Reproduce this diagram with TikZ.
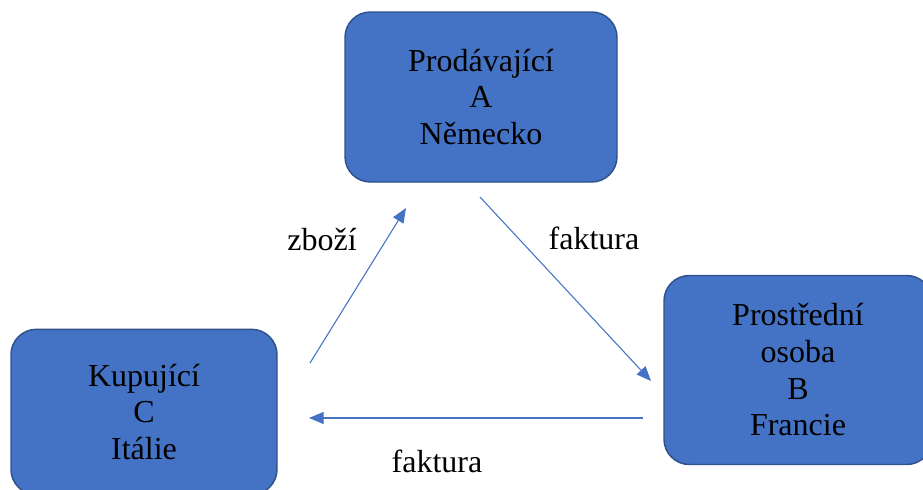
\documentclass[tikz,border=0pt]{standalone}
\usepackage{fontspec}
\setmainfont{Liberation Serif}
\usetikzlibrary{arrows.meta}

\definecolor{boxblue}{HTML}{4472C4}
\definecolor{boxedge}{HTML}{2F528F}

\begin{document}
\begin{tikzpicture}[
  x=0.75pt, y=-0.75pt,
  party/.style={rectangle, rounded corners=19pt, fill=boxblue, draw=boxedge,
    line width=1.1pt, align=center, text=black, inner sep=0pt,
    font=\fontsize{24}{27.5}\selectfont},
  lbl/.style={text=black, font=\fontsize{24}{27.5}\selectfont},
  arw/.style={-{Triangle[length=11pt, width=9pt]}, draw=boxblue, line width=0.8pt}
  ]

\useasboundingbox (0,0) rectangle (923,489);

\node [party, minimum width=204pt, minimum height=127.5pt] (seller) at (481,97)
  {Prodávající\\A\\Německo};
\node [party, minimum width=201pt, minimum height=141.75pt] (middle) at (798,370)
  {Prostřední\\osoba\\B\\Francie};
\node [party, minimum width=199.5pt, minimum height=124pt] (buyer) at (144,412)
  {Kupující\\C\\Itálie};

\coordinate (sellerout) at (480,197);
\coordinate (middlein) at (651,381);
\coordinate (middleout) at (643,418);
\coordinate (buyerin) at (309,418);
\coordinate (buyerout) at (310,363);
\coordinate (sellerin) at (406,208);

\draw [arw] (sellerout) -- (middlein);
\draw [arw] (middleout) -- (buyerin);
\draw [arw] (buyerout) -- (sellerin);

\node [lbl] (goods) at (322,240) {zboží};
\node [lbl] (invoiceb) at (594,238) {faktura};
\node [lbl] (invoicec) at (437,461) {faktura};

\end{tikzpicture}
\end{document}
